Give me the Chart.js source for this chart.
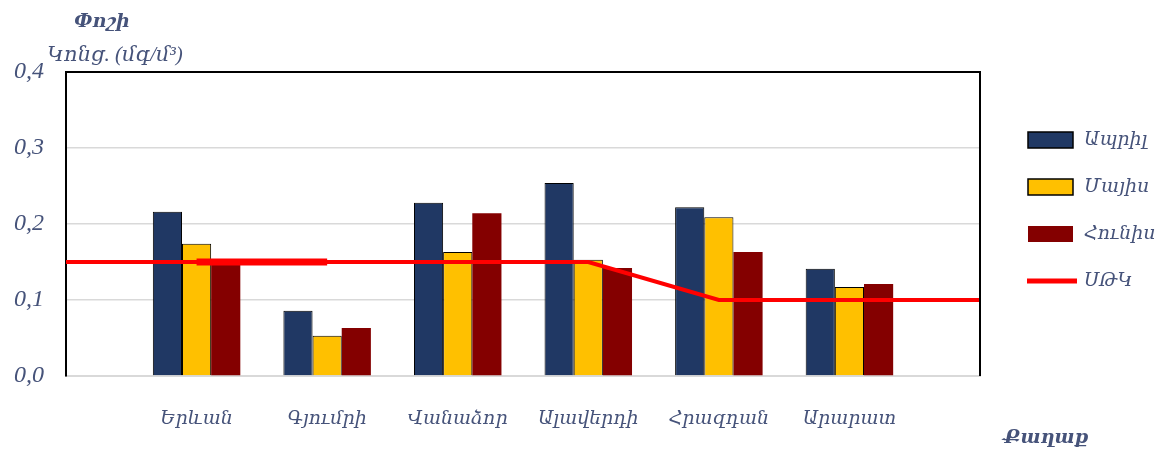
<!DOCTYPE html>
<html><head><meta charset="utf-8">
<script src="https://cdn.jsdelivr.net/npm/chart.js@4.4.1/dist/chart.umd.min.js"></script>
<style>html,body{margin:0;background:#fff}#wrap{width:1168px;height:457px;position:relative}</style>
</head><body><div id="wrap"><canvas id="c"></canvas></div>
<script>
const cities = ['Երևան', 'Գյումրի', 'Վանաձոր', 'Ալավերդի', 'Հրազդան', 'Արարատ'];
const april = [0.216, 0.086, 0.228, 0.254, 0.222, 0.141];
const may = [0.174, 0.053, 0.163, 0.153, 0.209, 0.117];
const june = [0.150, 0.063, 0.214, 0.142, 0.163, 0.121];
// ՍԹԿ, axis positions 0..7 (both plot edges included)
const limit = [0.15, 0.15, 0.15, 0.15, 0.15, 0.10, 0.10, 0.10];
const limitBold = [null, 0.15, 0.15, null, null, null, null, null];
const seriesNames = ['Ապրիլ', 'Մայիս', 'Հունիս', 'ՍԹԿ'];
const yTicks = [0, 0.1, 0.2, 0.3, 0.4];

const FONT = "'Liberation Serif', 'DejaVu Serif', serif";
const TXT = '#46537a';
const pad = arr => [null, ...arr, null];

const extras = {
    id: 'extras',
    afterDraw(chart) {
        const { ctx, chartArea: a } = chart;
        ctx.save();
        // top + right frame
        ctx.strokeStyle = '#000';
        ctx.lineWidth = 2;
        ctx.beginPath();
        ctx.moveTo(a.left, a.top);
        ctx.lineTo(a.right, a.top);
        ctx.lineTo(a.right, a.bottom);
        ctx.stroke();

        ctx.fillStyle = TXT;
        ctx.textBaseline = 'middle';
        ctx.textAlign = 'center';
        ctx.font = `italic bold 19px ${FONT}`;
        ctx.fillText('Փոշի', 102, 22);
        ctx.font = `italic 21px ${FONT}`;
        ctx.fillText('Կոնց. (մգ/մ³)', 115, 55);
        ctx.font = `italic bold 19px ${FONT}`;
        ctx.fillText('Քաղաք', 1046, 438);

        // legend
        const ds = chart.data.datasets;
        const rows = [140, 187, 234, 281];
        ctx.textAlign = 'left';
        ctx.font = `italic 19px ${FONT}`;
        for (let i = 0; i < 4; i++) {
            const y = rows[i];
            const d = ds[i];
            if (d.type === 'line') {
                ctx.strokeStyle = d.borderColor;
                ctx.lineWidth = 5;
                ctx.beginPath();
                ctx.moveTo(1027, y);
                ctx.lineTo(1077, y);
                ctx.stroke();
            } else {
                ctx.fillStyle = d.backgroundColor;
                ctx.fillRect(1028, y - 8, 45, 16);
                if (d.borderWidth) {
                    ctx.strokeStyle = '#000';
                    ctx.lineWidth = 1.5;
                    ctx.strokeRect(1028, y - 8, 45, 16);
                }
            }
            ctx.fillStyle = TXT;
            ctx.fillText(d.label, 1084, y);
        }
        ctx.restore();
    }
};

new Chart(document.getElementById('c'), {
    type: 'bar',
    data: {
        labels: ['', ...cities, ''],
        datasets: [
            { label: seriesNames[0], data: pad(april), backgroundColor: '#203864', borderColor: '#000', borderWidth: 1, order: 2 },
            { label: seriesNames[1], data: pad(may), backgroundColor: '#ffc000', borderColor: '#000', borderWidth: 1, order: 2 },
            { label: seriesNames[2], data: pad(june), backgroundColor: '#840000', borderWidth: 0, order: 2 },
            { type: 'line', label: seriesNames[3], data: limit, borderColor: '#ff0000', borderWidth: 4, pointRadius: 0, tension: 0, order: 1 },
            { type: 'line', label: '', data: limitBold, borderColor: '#ff0000', borderWidth: 7, pointRadius: 0, tension: 0, spanGaps: false, order: 0 },
        ]
    },
    options: {
        responsive: true,
        maintainAspectRatio: false,
        animation: false,
        layout: { padding: { top: 72, right: 188, bottom: 0, left: 0 } },
        datasets: { bar: { categoryPercentage: 0.67, barPercentage: 1 } },
        plugins: { legend: { display: false }, tooltip: { enabled: false } },
        scales: {
            x: {
                offset: false,
                grid: { display: false, offset: false },
                border: { color: '#d9d9d9', width: 2 },
                ticks: { color: TXT, padding: 24, autoSkip: false, maxRotation: 0, font: { family: FONT, size: 19, style: 'italic' } },
                afterFit: s => { s.height = 81; }
            },
            y: {
                min: 0, max: 0.4,
                afterBuildTicks: s => { s.ticks = yTicks.map(v => ({ value: v })); },
                grid: { color: '#d9d9d9', lineWidth: 1.5, drawTicks: false },
                border: { color: '#000', width: 2 },
                ticks: {
                    color: TXT, padding: 22,
                    font: { family: FONT, size: 24, style: 'italic' },
                    callback: v => v.toFixed(1).replace('.', ',')
                },
                afterFit: s => { s.width = 66; }
            }
        }
    },
    plugins: [extras]
});
</script>
</body></html>
